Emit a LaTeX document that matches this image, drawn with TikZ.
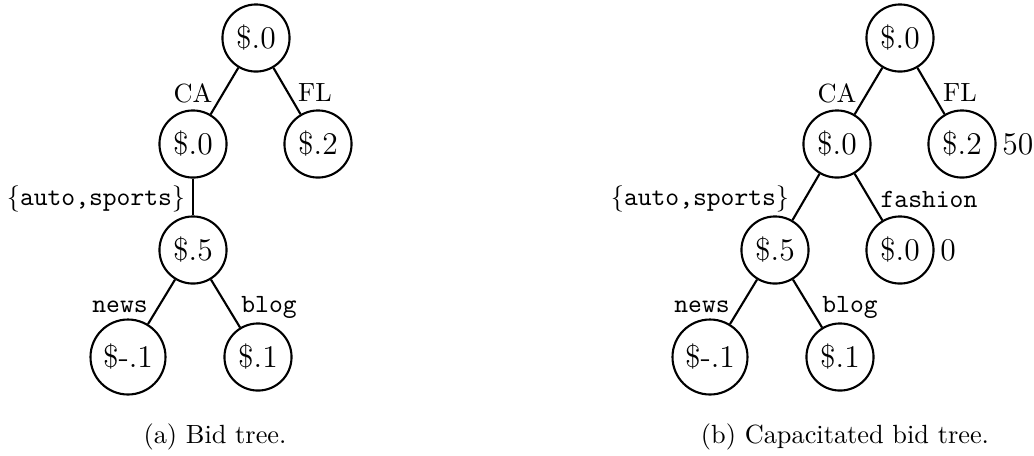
\documentclass[tikz,border=0pt]{standalone}
\tikzset{
  bid/.style={circle, draw, line width=0.8pt, minimum size=25.5pt, inner sep=1pt, font=\large},
  widebid/.style={bid, minimum size=28.5pt},
  edgelbl/.style={inner sep=0pt, font=\normalsize},
  caplbl/.style={inner sep=0pt, font=\large, anchor=west, xshift=2pt},
  branch/.style={line width=0.8pt},
}
\begin{document}
\begin{tikzpicture}[x=0.38pt, y=-0.38pt]
\useasboundingbox (0,0) rectangle (1034,455);

% (a) bid tree
\node[bid] (ar)  at (256,38)  {\$.0};
\node[bid] (aca) at (193,144) {\$.0};
\node[bid] (afl) at (318,144) {\$.2};
\node[bid] (aas) at (193,250) {\$.5};
\node[widebid] (anw) at (128,357) {\$-.1};
\node[bid] (abl) at (258,357) {\$.1};
\draw[branch] (ar) -- (aca);
\draw[branch] (ar) -- (afl);
\draw[branch] (aca) -- (aas);
\draw[branch] (aas) -- (anw);
\draw[branch] (aas) -- (abl);
\node[edgelbl] (laca) at (193,93)  {CA};
\node[edgelbl] (lafl) at (315,93)  {FL};
\node[edgelbl] (laas) at (96,199)  {$\{$\texttt{auto,sports}$\}$};
\node[edgelbl] (lanw) at (120,307) {\texttt{news}};
\node[edgelbl] (labl) at (269,307) {\texttt{blog}};
\node[inner sep=0pt] (capa) at (215,437) {(a) Bid tree.};

% (b) capacitated bid tree
\node[bid] (br)  at (900,38)  {\$.0};
\node[bid] (bca) at (837,144) {\$.0};
\node[bid] (bfl) at (962,144) {\$.2};
\node[bid] (bas) at (775,250) {\$.5};
\node[bid] (bfa) at (900,250) {\$.0};
\node[widebid] (bnw) at (710,357) {\$-.1};
\node[bid] (bbl) at (840,357) {\$.1};
\draw[branch] (br) -- (bca);
\draw[branch] (br) -- (bfl);
\draw[branch] (bca) -- (bas);
\draw[branch] (bca) -- (bfa);
\draw[branch] (bas) -- (bnw);
\draw[branch] (bas) -- (bbl);
\node[edgelbl] (lbca) at (837,93)  {CA};
\node[edgelbl] (lbfl) at (960,93)  {FL};
\node[edgelbl] (lbas) at (700,199) {$\{$\texttt{auto,sports}$\}$};
\node[edgelbl] (lbfa) at (929,199) {\texttt{fashion}};
\node[edgelbl] (lbnw) at (702,307) {\texttt{news}};
\node[edgelbl] (lbbl) at (850,307) {\texttt{blog}};
\node[caplbl] (cfl) at (bfl.east) {50};
\node[caplbl] (cfa) at (bfa.east) {0};
\node[inner sep=0pt] (capb) at (845,437) {(b) Capacitated bid tree.};
\end{tikzpicture}
\end{document}
